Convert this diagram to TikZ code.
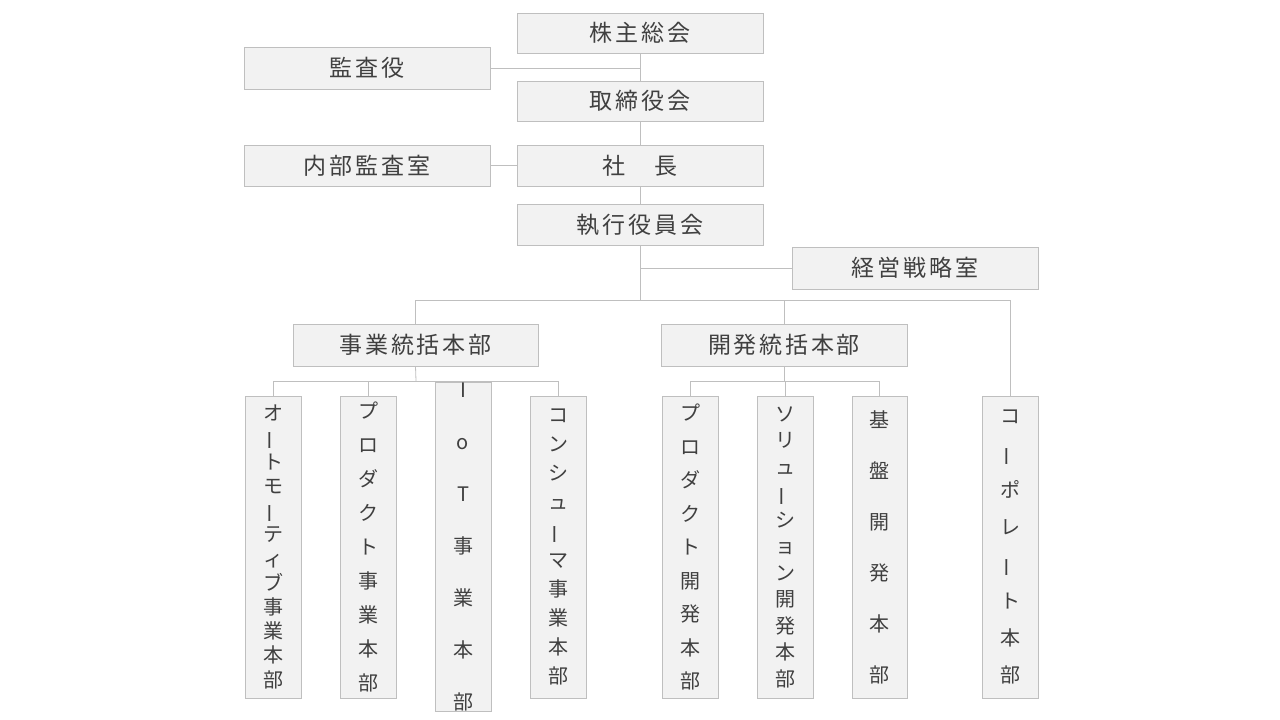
\documentclass[tikz,border=0pt]{standalone}
\usepackage{fontspec}
\newfontfamily\jp[LetterSpace=12]{Noto Sans CJK JP}
\newfontfamily\jpv{Noto Sans CJK JP}
\newcommand{\vb}{\rotatebox[origin=c]{90}{ー}}
\begin{document}
\begin{tikzpicture}[x=1pt,y=-1pt,
  bx/.style={draw=black!25,fill=black!5,line width=0.8pt,text=black!75,font=\jp\fontsize{23}{26}\selectfont},
  vbx/.style={draw=black!25,fill=black!5,line width=0.8pt,text=black!75,align=center,inner sep=0pt},
  ln/.style={draw=black!25,line width=0.8pt}]
\useasboundingbox (0,0) rectangle (1280,720);
\newcommand{\hb}[6]{\node[bx,minimum width=#3-#2,minimum height=#5-#4] (#1) at ({(#2+#3)/2},{(#4+#5)/2}) {#6};}
\hb{kabu}{517}{763}{13}{53}{株主総会}
\hb{kansa}{244}{490}{47}{89}{監査役}
\hb{tori}{517}{763}{81}{121}{取締役会}
\hb{naibu}{244}{490}{145}{186}{内部監査室}
\hb{sha}{517}{763}{145}{186}{社　長}
\hb{shikko}{517}{763}{204}{245}{執行役員会}
\hb{keiei}{792}{1038}{247}{289}{経営戦略室}
\hb{jigyo}{293}{538}{324}{366}{事業統括本部}
\hb{kaihatsu}{661}{907}{324}{366}{開発統括本部}
\newcommand{\vbx}[5]{\node[vbx,minimum width=#3-#2,minimum height=302,font=\jpv\fontsize{20}{#4}\selectfont] (#1) at ({(#2+#3)/2},547) {#5};}
\vbx{v1}{245}{301}{24.2}{オ\\\vb\\ト\\モ\\\vb\\テ\\ィ\\ブ\\事\\業\\本\\部}
\vbx{v2}{340}{396}{34}{プ\\ロ\\ダ\\ク\\ト\\事\\業\\本\\部}
\vbx{v3}{435}{491}{52}{I\\o\\T\\事\\業\\本\\部}
\vbx{v4}{530}{586}{29}{コ\\ン\\シ\\ュ\\\vb\\マ\\事\\業\\本\\部}
\vbx{v5}{662}{718}{33.5}{プ\\ロ\\ダ\\ク\\ト\\開\\発\\本\\部}
\vbx{v6}{757}{813}{26.5}{ソ\\リ\\ュ\\\vb\\シ\\ョ\\ン\\開\\発\\本\\部}
\vbx{v7}{852}{907}{51}{基\\盤\\開\\発\\本\\部}
\vbx{v8}{982}{1038}{37}{コ\\\vb\\ポ\\レ\\\vb\\ト\\本\\部}
\coordinate (a1) at (640,68);
\coordinate (a2) at (640,268);
\coordinate (a3) at (640,300);
\coordinate (j1) at (416,381);
\coordinate (k1) at (784,381);
\draw[ln] (kabu.south) -- (tori.north);
\draw[ln] (kansa.east |- a1) -- (a1);
\draw[ln] (tori.south) -- (sha.north);
\draw[ln] (naibu.east) -- (sha.west);
\draw[ln] (sha.south) -- (shikko.north);
\draw[ln] (shikko.south) -- (a3);
\draw[ln] (a2) -- (keiei.west);
\draw[ln] (jigyo.north) -- (jigyo.north |- a3) -- (v8.north |- a3) -- (v8.north);
\draw[ln] (kaihatsu.north) -- (kaihatsu.north |- a3);
\draw[ln] (jigyo.south) -- (j1);
\draw[ln] (kaihatsu.south) -- (k1);
\foreach \v in {v1,v2,v3,v4} \draw[ln] (\v.north) -- (\v.north |- j1);
\draw[ln] (v1.north |- j1) -- (v4.north |- j1);
\foreach \v in {v5,v6,v7} \draw[ln] (\v.north) -- (\v.north |- k1);
\draw[ln] (v5.north |- k1) -- (v7.north |- k1);
\end{tikzpicture}
\end{document}
